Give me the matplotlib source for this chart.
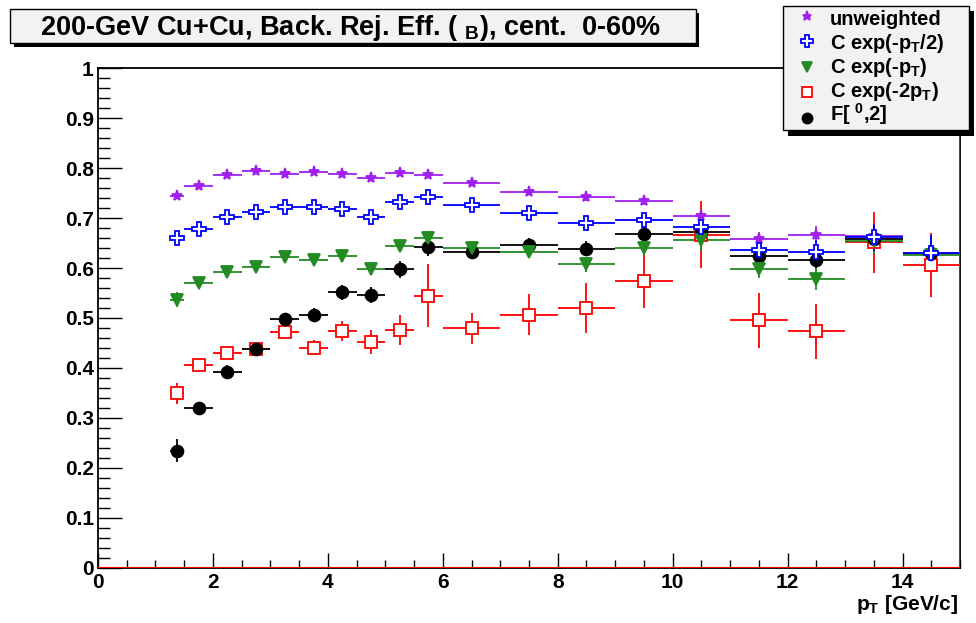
import numpy as np
import matplotlib
matplotlib.use("Agg")
import matplotlib.pyplot as plt
from matplotlib.patches import Rectangle
from matplotlib.lines import Line2D

plt.rcParams['font.family'] = ['Liberation Sans', 'DejaVu Sans']
plt.rcParams['font.weight'] = 'bold'
plt.rcParams['mathtext.fontset'] = 'custom'
plt.rcParams['mathtext.rm'] = 'Liberation Sans:bold'
plt.rcParams['mathtext.it'] = 'Liberation Sans:bold'
plt.rcParams['mathtext.bf'] = 'Liberation Sans:bold'

# pT bins (GeV/c)
bin_lo = [1.25, 1.5, 2.0, 2.5, 3.0, 3.5, 4.0, 4.5, 5.0, 5.5, 6, 7, 8, 9, 10, 11, 12, 13, 14]
bin_hi = [1.5, 2.0, 2.5, 3.0, 3.5, 4.0, 4.5, 5.0, 5.5, 6.0, 7, 8, 9, 10, 11, 12, 13, 14, 15]

unweighted = [0.744, 0.764, 0.786, 0.795, 0.789, 0.793, 0.789, 0.780, 0.790, 0.786,
              0.770, 0.753, 0.742, 0.734, 0.705, 0.659, 0.667, 0.665, 0.629]
unweighted_err = [0.005, 0.005, 0.004, 0.004, 0.004, 0.004, 0.004, 0.005, 0.005, 0.005,
                  0.005, 0.006, 0.007, 0.008, 0.012, 0.013, 0.017, 0.02, 0.025]

exp_half = [0.660, 0.678, 0.702, 0.713, 0.722, 0.722, 0.718, 0.702, 0.732, 0.742,
            0.726, 0.711, 0.691, 0.697, 0.682, 0.637, 0.633, 0.662, 0.630]
exp_half_err = [0.007, 0.007, 0.006, 0.006, 0.006, 0.006, 0.006, 0.007, 0.007, 0.008,
                0.008, 0.009, 0.010, 0.012, 0.015, 0.017, 0.023, 0.027, 0.037]

exp_one = [0.537, 0.571, 0.592, 0.602, 0.623, 0.616, 0.624, 0.598, 0.645, 0.661,
           0.640, 0.633, 0.608, 0.641, 0.657, 0.599, 0.579, 0.654, 0.627]
exp_one_err = [0.015, 0.008, 0.008, 0.008, 0.009, 0.009, 0.009, 0.010, 0.011, 0.014,
               0.012, 0.013, 0.015, 0.015, 0.022, 0.018, 0.022, 0.025, 0.03]

exp_two = [0.349, 0.406, 0.430, 0.438, 0.471, 0.440, 0.474, 0.451, 0.476, 0.545,
           0.479, 0.507, 0.520, 0.575, 0.667, 0.495, 0.473, 0.652, 0.607]
exp_two_err = [0.021, 0.010, 0.011, 0.012, 0.014, 0.015, 0.020, 0.024, 0.031, 0.064,
               0.031, 0.041, 0.051, 0.054, 0.067, 0.055, 0.055, 0.061, 0.064]

f_weight = [0.234, 0.320, 0.392, 0.438, 0.498, 0.507, 0.552, 0.547, 0.598, 0.642,
            0.633, 0.646, 0.639, 0.668, 0.672, 0.624, 0.617, 0.659, 0.630]
f_weight_err = [0.023, 0.008, 0.013, 0.010, 0.013, 0.013, 0.015, 0.016, 0.017, 0.018,
                0.012, 0.014, 0.015, 0.016, 0.020, 0.015, 0.020, 0.025, 0.030]

labels = ['unweighted', r'C exp(-p$_{\mathrm{T}}$/2)', r'C exp(-p$_{\mathrm{T}}$)',
          r'C exp(-2p$_{\mathrm{T}}$)', r'F[ ${}^{\mathrm{0}}$,2]']
x_ticks = [0, 2, 4, 6, 8, 10, 12, 14]
x_ticklabels = ['0', '2', '4', '6', '8', '10', '12', '14']
y_ticks = [0, 0.1, 0.2, 0.3, 0.4, 0.5, 0.6, 0.7, 0.8, 0.9, 1.0]
y_ticklabels = ['0', '0.1', '0.2', '0.3', '0.4', '0.5', '0.6', '0.7', '0.8', '0.9', '1']
title = r'200-GeV Cu+Cu, Back. Rej. Eff. ( ${}_{\mathrm{B}}$), cent.  0-60%'

lo = np.array(bin_lo)
hi = np.array(bin_hi)
xc = (lo + hi) / 2
xw = (hi - lo) / 2

W, H = 976, 623
fig = plt.figure(figsize=(W / 100, H / 100), dpi=100)
ax = fig.add_axes([98 / W, (H - 567.5) / H, (960 - 98) / W, (567.5 - 68.5) / H])

purple = '#a020f0'
blue = '#0000ff'
green = '#228b22'
red = '#ff0000'

# style per series: (values, errors, color, marker, size, face)
series = [
    (unweighted, unweighted_err, purple, '*', 8, purple),
    (exp_two, exp_two_err, red, 's', 8.5, 'white'),
    (f_weight, f_weight_err, 'black', 'o', 8.5, 'black'),
    (exp_one, exp_one_err, green, 'v', 8.5, green),
    (exp_half, exp_half_err, blue, 'P', 9.5, 'white'),
]
for vals, errs, col, mk, ms, fc in series:
    ax.errorbar(xc, vals, xerr=xw, yerr=errs, fmt=mk, color=col, mfc=fc, mec=col,
                ms=ms, mew=1.3, elinewidth=1.3, capsize=0, ls='none')

ax.axhline(0, color=red, lw=1.5, zorder=5)
ax.axvline(15, color=red, lw=1.5, zorder=5)

ax.set_xlim(0, 15)
ax.set_ylim(0, 1)
ax.set_xticks(x_ticks)
ax.set_xticklabels(x_ticklabels)
ax.set_yticks(y_ticks)
ax.set_yticklabels(y_ticklabels)
ax.set_xticks(np.arange(0, 15.01, 0.5), minor=True)
ax.set_yticks(np.arange(0, 1.001, 0.02), minor=True)
ax.tick_params(axis='both', which='both', direction='in', labelsize=15, width=1,
               top=False, right=False)
ax.tick_params(axis='x', which='major', length=11, pad=4)
ax.tick_params(axis='x', which='minor', length=5.5)
ax.tick_params(axis='y', which='major', length=17, pad=3)
ax.tick_params(axis='y', which='minor', length=8.5)
for s in ax.spines.values():
    s.set_linewidth(1.3)

fig.text(958 / W, 1 - 610 / H, r'p$_{\mathrm{T}}$ [GeV/c]', ha='right', va='baseline',
         fontsize=15)

def fx(px):
    return px / W

def fy(py):
    return 1 - py / H

# title box
fig.add_artist(Rectangle((fx(14), fy(47)), fx(699) - fx(14), fy(13) - fy(47),
                         transform=fig.transFigure, fc='black', ec='none'))
fig.add_artist(Rectangle((fx(10), fy(43)), fx(696) - fx(10), fy(9) - fy(43),
                         transform=fig.transFigure, fc='#f2f2f2', ec='black', lw=1))
fig.text(fx(351), fy(35), title, ha='center', va='baseline', fontsize=19.5)

# legend box
fig.add_artist(Rectangle((fx(788), fy(136)), fx(974) - fx(788), fy(11) - fy(136),
                         transform=fig.transFigure, fc='black', ec='none', zorder=10))
fig.add_artist(Rectangle((fx(783), fy(130)), fx(969) - fx(783), fy(6) - fy(130),
                         transform=fig.transFigure, fc='#f2f2f2', ec='black', lw=1,
                         zorder=11))
legend_order = [series[0], series[4], series[3], series[1], series[2]]
for i, (lab, st) in enumerate(zip(labels, legend_order)):
    _, _, col, mk, ms, fc = st
    fig.add_artist(Line2D([fx(807)], [fy(15.5 + 25.5 * i)], transform=fig.transFigure,
                          marker=mk, color=col, mfc=fc, mec=col, ms=ms * 0.85, mew=1.3,
                          ls='none', zorder=12))
    fig.text(fx(830), fy(25 + 24 * i), lab, ha='left', va='baseline', fontsize=14.5,
             zorder=12)

fig.savefig('out.png', dpi=100)
